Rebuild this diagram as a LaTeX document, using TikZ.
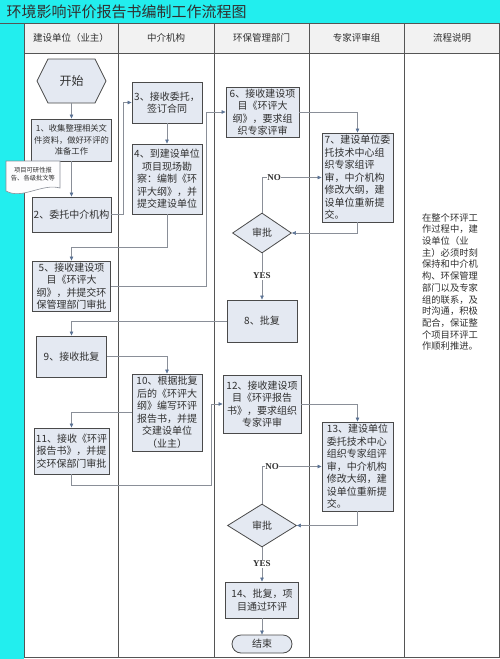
\documentclass[tikz,border=0pt]{standalone}
\usepackage{fontspec}
\setmainfont{Noto Sans CJK SC}
\newfontfamily\latinfont{Liberation Serif}
\usetikzlibrary{arrows.meta,shapes.geometric,calc}
\definecolor{cy}{HTML}{22EEEE}
\definecolor{boxfill}{HTML}{E4E9F2}
\definecolor{boxline}{HTML}{4A4A4A}
\definecolor{conn}{HTML}{8A8F98}
\definecolor{tipc}{HTML}{5B7395}
\definecolor{lane}{HTML}{555555}
\definecolor{hdr}{HTML}{F2F2F2}
\definecolor{txt}{HTML}{303030}
\tikzset{
  box/.style={draw=boxline,fill=boxfill,line width=0.9pt,inner sep=1pt,align=center,
    font=\fontsize{10}{12.5}\selectfont,text=txt},
  lbox/.style={box,align=left},
  cline/.style={draw=conn,line width=0.6pt},
  arr/.style={cline,-{Triangle[length=4pt,width=3.5pt,color=tipc]}},
  lbl/.style={fill=white,inner sep=0.5pt,font=\latinfont\bfseries\fontsize{9}{10}\selectfont,text=txt},
  lanehead/.style={font=\fontsize{9.5}{11}\selectfont,text=txt},
  dia/.style={shape=diamond,draw=boxline,fill=boxfill,line width=0.8pt,inner sep=0pt,
    font=\fontsize{10}{12}\selectfont,text=txt},
}
\begin{document}
\begin{tikzpicture}[x=1pt,y=-1pt]
\useasboundingbox (0,0) rectangle (500,659);
% background
\fill[white] (0,0) rectangle (500,659);
\fill[cy] (0,0) rectangle (500,23);
\fill[cy] (0,23) rectangle (24,659);
\fill[hdr] (24,23) rectangle (500,53);
\node[anchor=west,font=\fontsize{15}{17}\selectfont,text=txt] (title) at (3,12) {环境影响评价报告书编制工作流程图};
% lane lines
\draw[lane,line width=0.8pt] (0,23) -- (500,23);
\draw[lane,line width=0.8pt] (24,53) -- (500,53);
\draw[lane,line width=0.8pt] (24,657) -- (500,657);
\foreach \x in {24,118,214,309,404,499.5}
  \draw[lane,line width=0.8pt] (\x,23) -- (\x,657);
\node[lanehead] (h1) at (71,38) {建设单位（业主）};
\node[lanehead] (h2) at (166,38) {中介机构};
\node[lanehead] (h3) at (261.5,38) {环保管理部门};
\node[lanehead] (h4) at (356.5,38) {专家评审组};
\node[lanehead] (h5) at (452,38) {流程说明};

% start hexagon
\coordinate (sc) at (71.5,81);
\draw[draw=boxline,fill=boxfill,line width=0.8pt] ($(sc)+(-34.5,0)$) -- ++(11,-22) -- ++(47,0) -- ++(11,22) -- ++(-11,22) -- ++(-47,0) -- cycle;
\node[minimum width=69pt,minimum height=44pt,font=\fontsize{12}{14}\selectfont,text=txt] (start) at (sc) {开始};

% nodes
\node[box,minimum width=80pt,minimum height=42pt,font=\fontsize{8.3}{11.7}\selectfont] (b1) at (71.5,140) {1、收集整理相关文\\件资料，做好环评的\\准备工作};
\node[box,minimum width=79pt,minimum height=35pt] (b2) at (71.5,214.5) {2、委托中介机构};
\node[box,minimum width=70pt,minimum height=41pt] (b3) at (167,102.5) {3、接收委托，\\签订合同};
\node[box,minimum width=70pt,minimum height=70pt] (b4) at (167,179) {4、到建设单位\\项目现场勘\\察：编制《环\\评大纲》，并\\提交建设单位};
\node[box,minimum width=78pt,minimum height=50pt] (b5) at (71.5,286) {5、接收建设项\\目《环评大\\纲》，并提交环\\保管理部门审批};
\node[box,minimum width=73pt,minimum height=50pt] (b6) at (262.5,112) {6、接收建设项\\目《环评大\\纲》，要求组\\织专家评审};
\node[lbox,minimum width=71pt,minimum height=89pt] (b7) at (357.5,177.5) {7、建设单位委\\托技术中心组\\织专家组评\\审，中介机构\\修改大纲，建\\设单位重新提\\交。};
\node[dia,minimum width=59pt,minimum height=40pt] (d1) at (262,233) {审批};
\node[box,minimum width=70pt,minimum height=42pt] (b8) at (262,321) {8、批复};
\node[box,minimum width=70pt,minimum height=41pt] (b9) at (71.5,356.5) {9、接收批复};
\node[box,minimum width=70pt,minimum height=77pt] (b10) at (167,412.5) {10、根据批复\\后的《环评大\\纲》编写环评\\报告书，并提\\交建设单位\\（业主）};
\node[box,minimum width=75pt,minimum height=46pt] (b11) at (71.5,451) {11、接收《环评\\报告书》，并提\\交环保部门审批};
\node[box,minimum width=78pt,minimum height=58pt] (b12) at (262,404) {12、接收建设项\\目《环评报告\\书》，要求组织\\专家评审};
\node[lbox,minimum width=71pt,minimum height=89pt] (b13) at (357.5,466.5) {13、建设单位\\委托技术中心\\组织专家组评\\审，中介机构\\修改大纲，建\\设单位重新提\\交。};
\node[dia,minimum width=69pt,minimum height=43pt] (d2) at (262,525.5) {审批};
\node[box,minimum width=73pt,minimum height=36pt] (b14) at (262,600) {14、批复，项\\目通过环评};
\node[draw=boxline,fill=boxfill,line width=0.8pt,rounded corners=9pt,minimum width=60pt,minimum height=18pt,inner sep=0pt,font=\fontsize{10}{12}\selectfont,text=txt] (end) at (262,644) {结束};

% document shape
\draw[draw=conn,fill=white!92!boxfill,line width=0.6pt] (6,161) -- (60,161) -- (60,188) .. controls (42,183) and (22,200) .. (6,191) -- cycle;
\node[font=\fontsize{6.3}{8.5}\selectfont,text=txt,align=center] (doc) at (33,174) {项目可研性报\\告、各级批文等};

% note
\node[font=\fontsize{9.3}{11.7}\selectfont,text=txt,align=left,inner sep=0pt] (note) at (450,282) {在整个环评工\\作过程中，建\\设单位（业\\主）必须时刻\\保持和中介机\\构、环保管理\\部门以及专家\\组的联系，及\\时沟通，积极\\配合，保证整\\个项目环评工\\作顺利推进。};

% connectors
\draw[arr] (start.south) -- (b1.north);
\draw[arr] (b1.south) -- (b2.north);
\draw[arr] (b2.east) -- ++(12,0) |- (b3.west);
\draw[arr] (b3.south) -- (b4.north);
\draw[arr] (b4.south) -- ++(0,33) -| (b5.north);
\draw[arr] (b5.east) -| ($(b6.west)+(-19,0)$) -- (b6.west);
\draw[arr] (b6.east) -| (b7.north);
\draw[arr] (b7.south) |- (d1.east);
\draw[arr] (d1.north) |- (b7.west);
\draw[arr] (d1.south) -- (b8.north);
\draw[arr] (b8.west) -| (b9.north);
\draw[arr] (b9.east) -| (b10.north);
\draw[arr] (b10.west) -| (b11.north);
\draw[arr] (b11.south) -- ++(0,11) -| ($(b12.west)+(-11,0)$) -- (b12.west);
\draw[arr] (b12.east) -| (b13.north);
\draw[arr] (b13.south) |- (d2.east);
\draw[arr] (d2.north) |- (b13.west);
\draw[arr] (d2.south) -- (b14.north);
\draw[arr] (b14.south) -- (end.north);

% labels
\node[lbl] (no1) at (274,177.5) {NO};
\node[lbl] (yes1) at (262,276) {YES};
\node[lbl] (no2) at (272,466.5) {NO};
\node[lbl] (yes2) at (262,564) {YES};
\end{tikzpicture}
\end{document}
